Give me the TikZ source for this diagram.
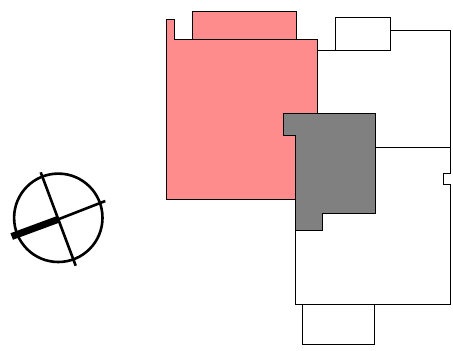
\documentclass[tikz,border=0pt]{standalone}
\definecolor{pinkfill}{RGB}{255,140,140}
\definecolor{grayfill}{RGB}{128,128,128}
\tikzset{
  outline/.style={draw=black,line width=1pt,line join=miter},
  pinkshape/.style={outline,fill=pinkfill},
  grayshape/.style={outline,fill=grayfill},
  compassline/.style={draw=black,line width=2.6pt},
}
\begin{document}
\begin{tikzpicture}[x=1pt,y=-1pt]
\useasboundingbox (0,0) rectangle (453,351);
% white building outline
\draw[outline] (317,50.5) -- (335,50.5) -- (335,17.5) -- (390.5,17.5) -- (390.5,50.5) -- (335,50.5);
\draw[outline] (390.5,30.5) -- (450.5,30.5) -- (450.5,173) -- (443.5,173) -- (443.5,184) -- (450.5,184) -- (450.5,304.5) -- (295.5,304.5) -- (295.5,230);
\draw[outline] (375,147.5) -- (450.5,147.5);
\draw[outline] (302.5,304.5) -- (302.5,344) -- (374,344) -- (374,304.5);
% pink area
\draw[pinkshape] (166.5,19) -- (174.5,19) -- (174.5,39) -- (192,39) -- (192,11) -- (296.5,11) -- (296.5,39) -- (317,39) -- (317,199) -- (166.5,199) -- cycle;
\draw[outline] (192,39) -- (296.5,39);
% gray area
\draw[grayshape] (283,113.5) -- (375,113.5) -- (375,213) -- (322,213) -- (322,230.5) -- (295.5,230.5) -- (295.5,135) -- (283,135) -- cycle;
% compass
\draw[compassline] (58.3,217.8) circle[radius=44.2];
\draw[compassline] (40.7,172.3) -- (75.7,265.7);
\draw[compassline] (58.3,219.3) -- (105.3,201);
\draw[draw=black,line width=7pt] (11.7,236.5) -- (58.3,219.3);
\end{tikzpicture}
\end{document}
